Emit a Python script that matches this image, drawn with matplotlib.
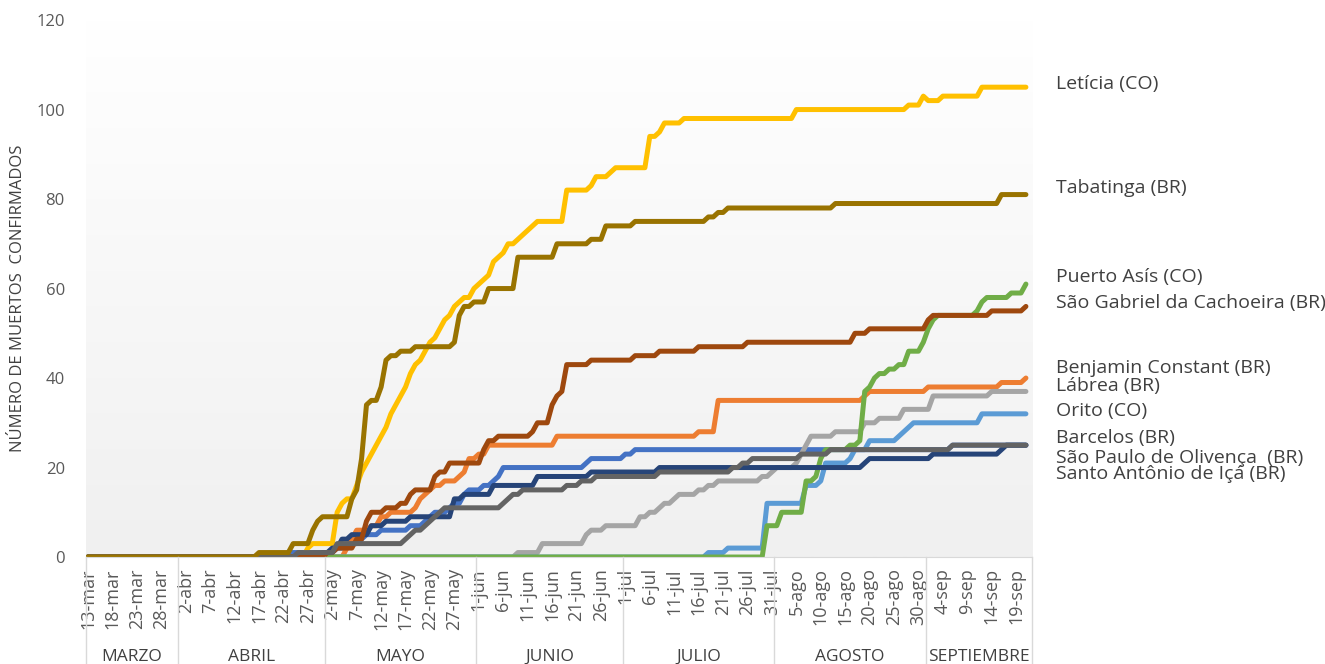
import numpy as np
import pandas as pd
import matplotlib
matplotlib.use('Agg')
import matplotlib.pyplot as plt
import matplotlib.transforms as mtransforms
from matplotlib.colors import LinearSegmentedColormap

plt.rcParams['font.family'] = ['Open Sans', 'DejaVu Sans']

# days counted from 13-mar-2020 ; value holds from that day on (cumulative deaths)
fecha_inicio = '2020-03-13'
n_dias = 193

barcelos_dia = [0, 41, 51, 54, 56, 57, 60, 66, 69, 70, 71, 74, 75, 77, 78, 81, 83, 84, 85, 102, 103, 110, 112, 177]
barcelos_val = [0, 1, 2, 3, 4, 5, 6, 7, 8, 9, 10, 11, 12, 14, 15, 16, 17, 18, 20, 21, 22, 23, 24, 25]

benjamin_dia = [0, 53, 54, 55, 58, 60, 62, 67, 68, 69, 70, 71, 73, 76, 77, 78, 80, 82, 96, 125, 129, 159, 160, 172, 187, 192]
benjamin_val = [0, 2, 4, 6, 7, 9, 10, 11, 13, 14, 15, 16, 17, 18, 19, 22, 23, 25, 27, 28, 35, 36, 37, 38, 39, 40]

labrea_dia = [0, 88, 93, 102, 103, 106, 113, 115, 117, 118, 120, 121, 125, 127, 129, 138, 140, 141, 145, 146, 147, 148, 153, 159, 162, 167, 173, 185]
labrea_val = [0, 1, 3, 5, 6, 7, 9, 10, 11, 12, 13, 14, 15, 16, 17, 18, 19, 20, 21, 23, 25, 27, 28, 30, 31, 33, 36, 37]

leticia_dia = [0, 45, 46, 51, 52, 53, 55, 56, 57, 58, 59, 60, 61, 62, 63, 64, 65, 66, 67, 68, 69, 70, 71, 72,
               73, 74, 75, 76, 77, 79, 80, 81, 82, 83, 84, 85, 86, 88, 89, 90, 91, 92, 98, 103, 104, 107, 108,
               115, 117, 118, 122, 145, 168, 171, 172, 175, 183]
leticia_val = [0, 2, 3, 10, 12, 13, 16, 19, 21, 23, 25, 27, 29, 32, 34, 36, 38, 41, 43, 44, 46, 48, 49, 51,
               53, 54, 56, 57, 58, 60, 61, 62, 63, 66, 67, 68, 70, 71, 72, 73, 74, 75, 82, 83, 85, 86, 87,
               94, 95, 97, 98, 100, 101, 103, 102, 103, 105]

orito_dia = [0, 127, 131, 139, 147, 150, 151, 156, 157, 160, 166, 167, 168, 169, 183]
orito_val = [0, 1, 2, 12, 16, 17, 21, 22, 24, 26, 27, 28, 29, 30, 32]

puerto_dia = [0, 139, 142, 147, 149, 150, 151, 156, 158, 159, 160, 161, 162, 164, 166, 168, 171, 172, 173,
              174, 182, 183, 184, 189, 192]
puerto_val = [0, 7, 10, 17, 18, 22, 24, 25, 26, 37, 38, 40, 41, 42, 43, 46, 48, 51, 53, 54, 55, 57, 58, 59, 61]

santo_dia = [0, 48, 50, 52, 54, 58, 61, 66, 75, 77, 83, 92, 103, 117, 159, 160, 173, 187, 188]
santo_val = [0, 1, 2, 4, 5, 7, 8, 9, 13, 14, 16, 18, 19, 20, 21, 22, 23, 24, 25]

gabriel_dia = [0, 49, 51, 55, 57, 58, 61, 64, 66, 67, 71, 72, 74, 81, 82, 84, 91, 92, 95, 96, 97, 98, 103,
               112, 117, 125, 135, 157, 160, 172, 173, 185, 192]
gabriel_val = [0, 1, 2, 4, 8, 10, 11, 12, 14, 15, 18, 19, 21, 24, 26, 27, 28, 30, 34, 36, 37, 43, 44,
               45, 46, 47, 48, 50, 51, 53, 54, 55, 56]

paulo_dia = [0, 43, 51, 65, 66, 67, 69, 70, 71, 72, 73, 85, 86, 87, 89, 98, 101, 104, 117, 132, 134, 136, 146, 152, 177]
paulo_val = [0, 1, 3, 4, 5, 6, 7, 8, 9, 10, 11, 12, 13, 14, 15, 16, 17, 18, 19, 20, 21, 22, 23, 24, 25]

tabatinga_dia = [0, 35, 42, 46, 47, 48, 54, 55, 56, 57, 58, 60, 61, 62, 64, 67, 75, 76, 77, 79, 82, 88, 96,
                 103, 106, 112, 127, 129, 131, 153, 187]
tabatinga_val = [0, 1, 3, 6, 8, 9, 13, 15, 22, 34, 35, 38, 44, 45, 46, 47, 48, 54, 56, 57, 60, 67, 70,
                 71, 74, 75, 76, 77, 78, 79, 81]

nombres = ['Barcelos (BR)', 'Benjamin Constant (BR)', 'Lábrea (BR)', 'Letícia (CO)', 'Orito (CO)',
           'Puerto Asís (CO)', 'Santo Antônio de Içá (BR)', 'São Gabriel da Cachoeira (BR)',
           'São Paulo de Olivença  (BR)', 'Tabatinga (BR)']
series = [(barcelos_dia, barcelos_val), (benjamin_dia, benjamin_val), (labrea_dia, labrea_val),
          (leticia_dia, leticia_val), (orito_dia, orito_val), (puerto_dia, puerto_val),
          (santo_dia, santo_val), (gabriel_dia, gabriel_val), (paulo_dia, paulo_val),
          (tabatinga_dia, tabatinga_val)]
colores = ['#4472C4', '#ED7D31', '#A5A5A5', '#FFC000', '#5B9BD5', '#70AD47',
           '#264478', '#9E480E', '#636363', '#997300']
# label heights on the right (data units)
etiqueta_y = [26.6, 42.3, 38.3, 105.8, 32.7, 62.6, 18.6, 56.8, 22.1, 82.5]

meses = {3: 'mar', 4: 'abr', 5: 'may', 6: 'jun', 7: 'jul', 8: 'ago', 9: 'sep'}
meses_largo = {3: 'MARZO', 4: 'ABRIL', 5: 'MAYO', 6: 'JUNIO', 7: 'JULIO', 8: 'AGOSTO', 9: 'SEPTIEMBRE'}


def diario(dias, vals):
    s = pd.Series(vals, index=dias, dtype=float).reindex(range(n_dias)).ffill()
    return s.values


fechas = pd.date_range(fecha_inicio, periods=n_dias)
x = np.arange(n_dias)

fig = plt.figure(figsize=(13.25, 6.64), dpi=100)
ax = fig.add_axes([0.0646, 0.1611, 0.7141, 0.8087])

x0, x1 = -0.5, 193.2
grad = np.linspace(1, 0, 256).reshape(-1, 1)
cmap = LinearSegmentedColormap.from_list('fondo', ['#ffffff', '#f0f0f0'])
ax.imshow(grad, extent=[x0, x1, 0, 120], aspect='auto', cmap=cmap, origin='lower', zorder=0)

for (dias, vals), nombre, c in zip(series, nombres, colores):
    ax.plot(x, diario(dias, vals), color=c, lw=3.6, solid_capstyle='round',
            solid_joinstyle='round', zorder=2)

ax.set_xlim(x0, x1)
ax.set_ylim(0, 120)

for s in ['top', 'right', 'left']:
    ax.spines[s].set_visible(False)
ax.spines['bottom'].set_color('#d9d9d9')

ax.set_yticks(range(0, 121, 20))
ax.tick_params(axis='y', length=0, pad=15, labelsize=12, labelcolor='#595959')

ticks = list(range(0, n_dias, 5))
ax.set_xticks(ticks)
ax.set_xticklabels([f'{fechas[i].day}-{meses[fechas[i].month]}' for i in ticks],
                   rotation=90, fontsize=13, color='#595959')
ax.tick_params(axis='x', length=0, pad=8)

fig.text(0.0136, 0.551, 'NÚMERO DE MUERTOS  CONFIRMADOS', rotation=90,
         ha='center', va='center', fontsize=12, color='#404040')

# month groups under the axis
tr = mtransforms.blended_transform_factory(ax.transData, fig.transFigure)
bordes = []
for m in meses_largo:
    idx = np.where(fechas.month == m)[0]
    izq = idx[0] - 0.5
    der = idx[-1] + 0.5 if m != 9 else x1
    bordes.append(izq)
    ax.text((izq + der) / 2, 0.005, meses_largo[m], transform=tr, ha='center', va='baseline',
            fontsize=12.5, color='#404040', clip_on=False)
bordes.append(x1)
for b in bordes:
    ax.plot([b, b], [0, 0.1611], transform=tr, color='#d9d9d9', lw=1, clip_on=False)

# series labels on the right
tr2 = mtransforms.blended_transform_factory(fig.transFigure, ax.transData)
for nombre, yl in zip(nombres, etiqueta_y):
    ax.text(0.797, yl, nombre, transform=tr2, ha='left', va='center', fontsize=14,
            color='#404040', clip_on=False)

fig.savefig('out.png', dpi=100)
